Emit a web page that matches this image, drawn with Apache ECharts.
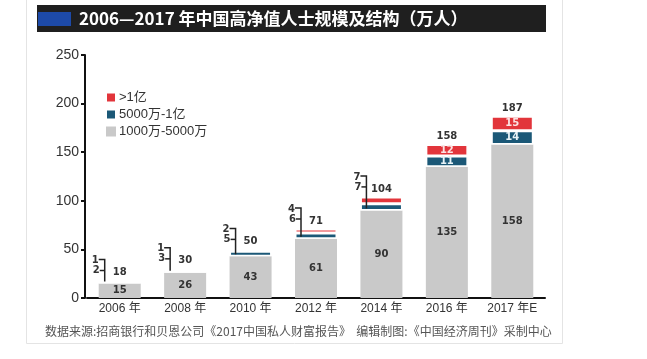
<!DOCTYPE html>
<html>
<head>
<meta charset="utf-8">
<script src="https://cdn.jsdelivr.net/npm/echarts@6/dist/echarts.min.js"></script>
<style>
html,body{margin:0;padding:0;background:#fff;}
#c{width:647px;height:359px;}
</style>
</head>
<body>
<div id="c"></div>
<script>
const categories = ['2006 年','2008 年','2010 年','2012 年','2014 年','2016 年','2017 年E'];
const seriesNames = ['1000万-5000万','5000万-1亿','>1亿'];
const base = [15, 26, 43, 61, 90, 135, 158];   // 1000万-5000万
const midTier = [2, 3, 5, 6, 7, 11, 14];       // 5000万-1亿
const topTier = [1, 1, 2, 4, 7, 12, 15];       // >1亿
const totals = [18, 30, 50, 71, 104, 158, 187];
const yTicks = {min: 0, max: 250, interval: 50};
const titleText = '2006—2017 年中国高净值人士规模及结构（万人）';
const sourceText = '数据来源:招商银行和贝恩公司《2017中国私人财富报告》  编辑制图:《中国经济周刊》采制中心';

const GRAY = '#c9c9c9', TEAL = '#1b5877', RED = '#e2353b';
const NUMFONT = 'DejaVu Sans';
const BW = 42;

const chart = echarts.init(document.getElementById('c'), null, {renderer: 'canvas'});

const option = {
  animation: false,
  backgroundColor: '#fff',
  textStyle: {fontFamily: 'Liberation Sans, "Noto Sans CJK SC", sans-serif'},
  graphic: [
    {type: 'rect', z: -10, shape: {x: 26.5, y: -2, width: 536, height: 345.5}, style: {fill: '#fff', stroke: '#e4e4e4', lineWidth: 1}},
    {type: 'rect', z: -5, shape: {x: 37, y: 5, width: 509, height: 27}, style: {fill: '#1f1f1f'}},
    {type: 'rect', z: -4, shape: {x: 38, y: 12, width: 33, height: 14}, style: {fill: '#1d4aa8'}},
    {type: 'text', z: -3, style: {text: titleText, x: 79, y: 19, verticalAlign: 'middle', fill: '#fff',
      font: 'bold 17px "Noto Sans CJK SC", sans-serif'}},
    {type: 'text', z: -3, style: {text: sourceText, x: 45, y: 331, verticalAlign: 'middle', fill: '#555',
      font: '12px "Noto Sans CJK SC", sans-serif'}}
  ],
  legend: {
    data: ['>1亿', '5000万-1亿', '1000万-5000万'],
    orient: 'vertical', left: 100, top: 86,
    itemWidth: 10, itemHeight: 10, itemGap: 4, icon: 'rect',
    textStyle: {fontSize: 13, color: '#333', fontFamily: 'Liberation Sans, "Noto Sans CJK SC"', padding: [0, 0, 0, -2]}
  },
  grid: {left: 87, right: 102, top: 55, bottom: 61, containLabel: false},
  xAxis: {
    type: 'category', data: categories,
    axisLine: {lineStyle: {color: '#111', width: 2}},
    axisTick: {show: false},
    axisLabel: {fontSize: 12, color: '#333', margin: 5, fontFamily: 'Liberation Sans, "Noto Sans CJK SC"'}
  },
  yAxis: {
    type: 'value', min: yTicks.min, max: yTicks.max, interval: yTicks.interval, offset: 2,
    axisLine: {show: true, lineStyle: {color: '#111', width: 2}},
    axisTick: {show: true, length: 4, lineStyle: {color: '#111', width: 2}},
    splitLine: {show: false},
    axisLabel: {fontSize: 14, color: '#333', margin: 6, fontFamily: 'Liberation Sans'}
  },
  series: [
    {
      name: seriesNames[0], type: 'bar', stack: 'a', barWidth: BW, data: base,
      itemStyle: {color: GRAY},
      label: {show: true, position: 'inside', color: '#333', fontSize: 10, fontWeight: 'bold', fontFamily: NUMFONT}
    },
    {
      name: seriesNames[1], type: 'bar', stack: 'a', barWidth: BW, data: midTier,
      itemStyle: {color: TEAL, borderColor: '#fff', borderWidth: 1.5},
      label: {show: true, position: 'inside', color: '#e8f3f7', fontSize: 10, fontWeight: 'bold', fontFamily: NUMFONT,
        formatter: p => p.value >= 10 ? String(p.value) : ''}
    },
    {
      name: seriesNames[2], type: 'bar', stack: 'a', barWidth: BW, data: topTier,
      itemStyle: {color: RED, borderColor: '#fff', borderWidth: 1.5},
      label: {show: true, position: 'inside', color: '#fbe3e3', fontSize: 10, fontWeight: 'bold', fontFamily: NUMFONT,
        formatter: p => p.value >= 10 ? String(p.value) : ''}
    },
    {
      type: 'custom', z: 10, silent: true, clip: false,
      data: totals.map((t, i) => [i, t]),
      encode: {x: 0, y: 1},
      renderItem: function (params, api) {
        const i = api.value(0);
        const pTop = api.coord([i, totals[i]]);
        const xc = pTop[0], yT = pTop[1];
        const yG = api.coord([i, base[i]])[1];
        const children = [{
          type: 'text',
          style: {text: String(totals[i]), x: xc, y: yT - 8, align: 'center', verticalAlign: 'middle',
            font: 'bold 10px "DejaVu Sans"', fill: '#333'}
        }];
        if (topTier[i] < 10) {
          const lx = xc - BW / 2 + 6;
          const t = yT - 21, m = yT - 10, b = yG - 2;
          children.push({type: 'polyline', shape: {points: [[lx - 6, t], [lx, t], [lx, b]]},
            style: {stroke: '#222', lineWidth: 1.5, fill: null}});
          children.push({type: 'line', shape: {x1: lx - 5, y1: m, x2: lx, y2: m},
            style: {stroke: '#222', lineWidth: 1.5}});
          children.push({type: 'text', style: {text: String(topTier[i]), x: lx - 6, y: t + 1, align: 'right',
            verticalAlign: 'middle', font: 'bold 10px "DejaVu Sans"', fill: '#333'}});
          children.push({type: 'text', style: {text: String(midTier[i]), x: lx - 5, y: m, align: 'right',
            verticalAlign: 'middle', font: 'bold 10px "DejaVu Sans"', fill: '#333'}});
        }
        return {type: 'group', children: children};
      }
    }
  ]
};
chart.setOption(option);
</script>
</body>
</html>
